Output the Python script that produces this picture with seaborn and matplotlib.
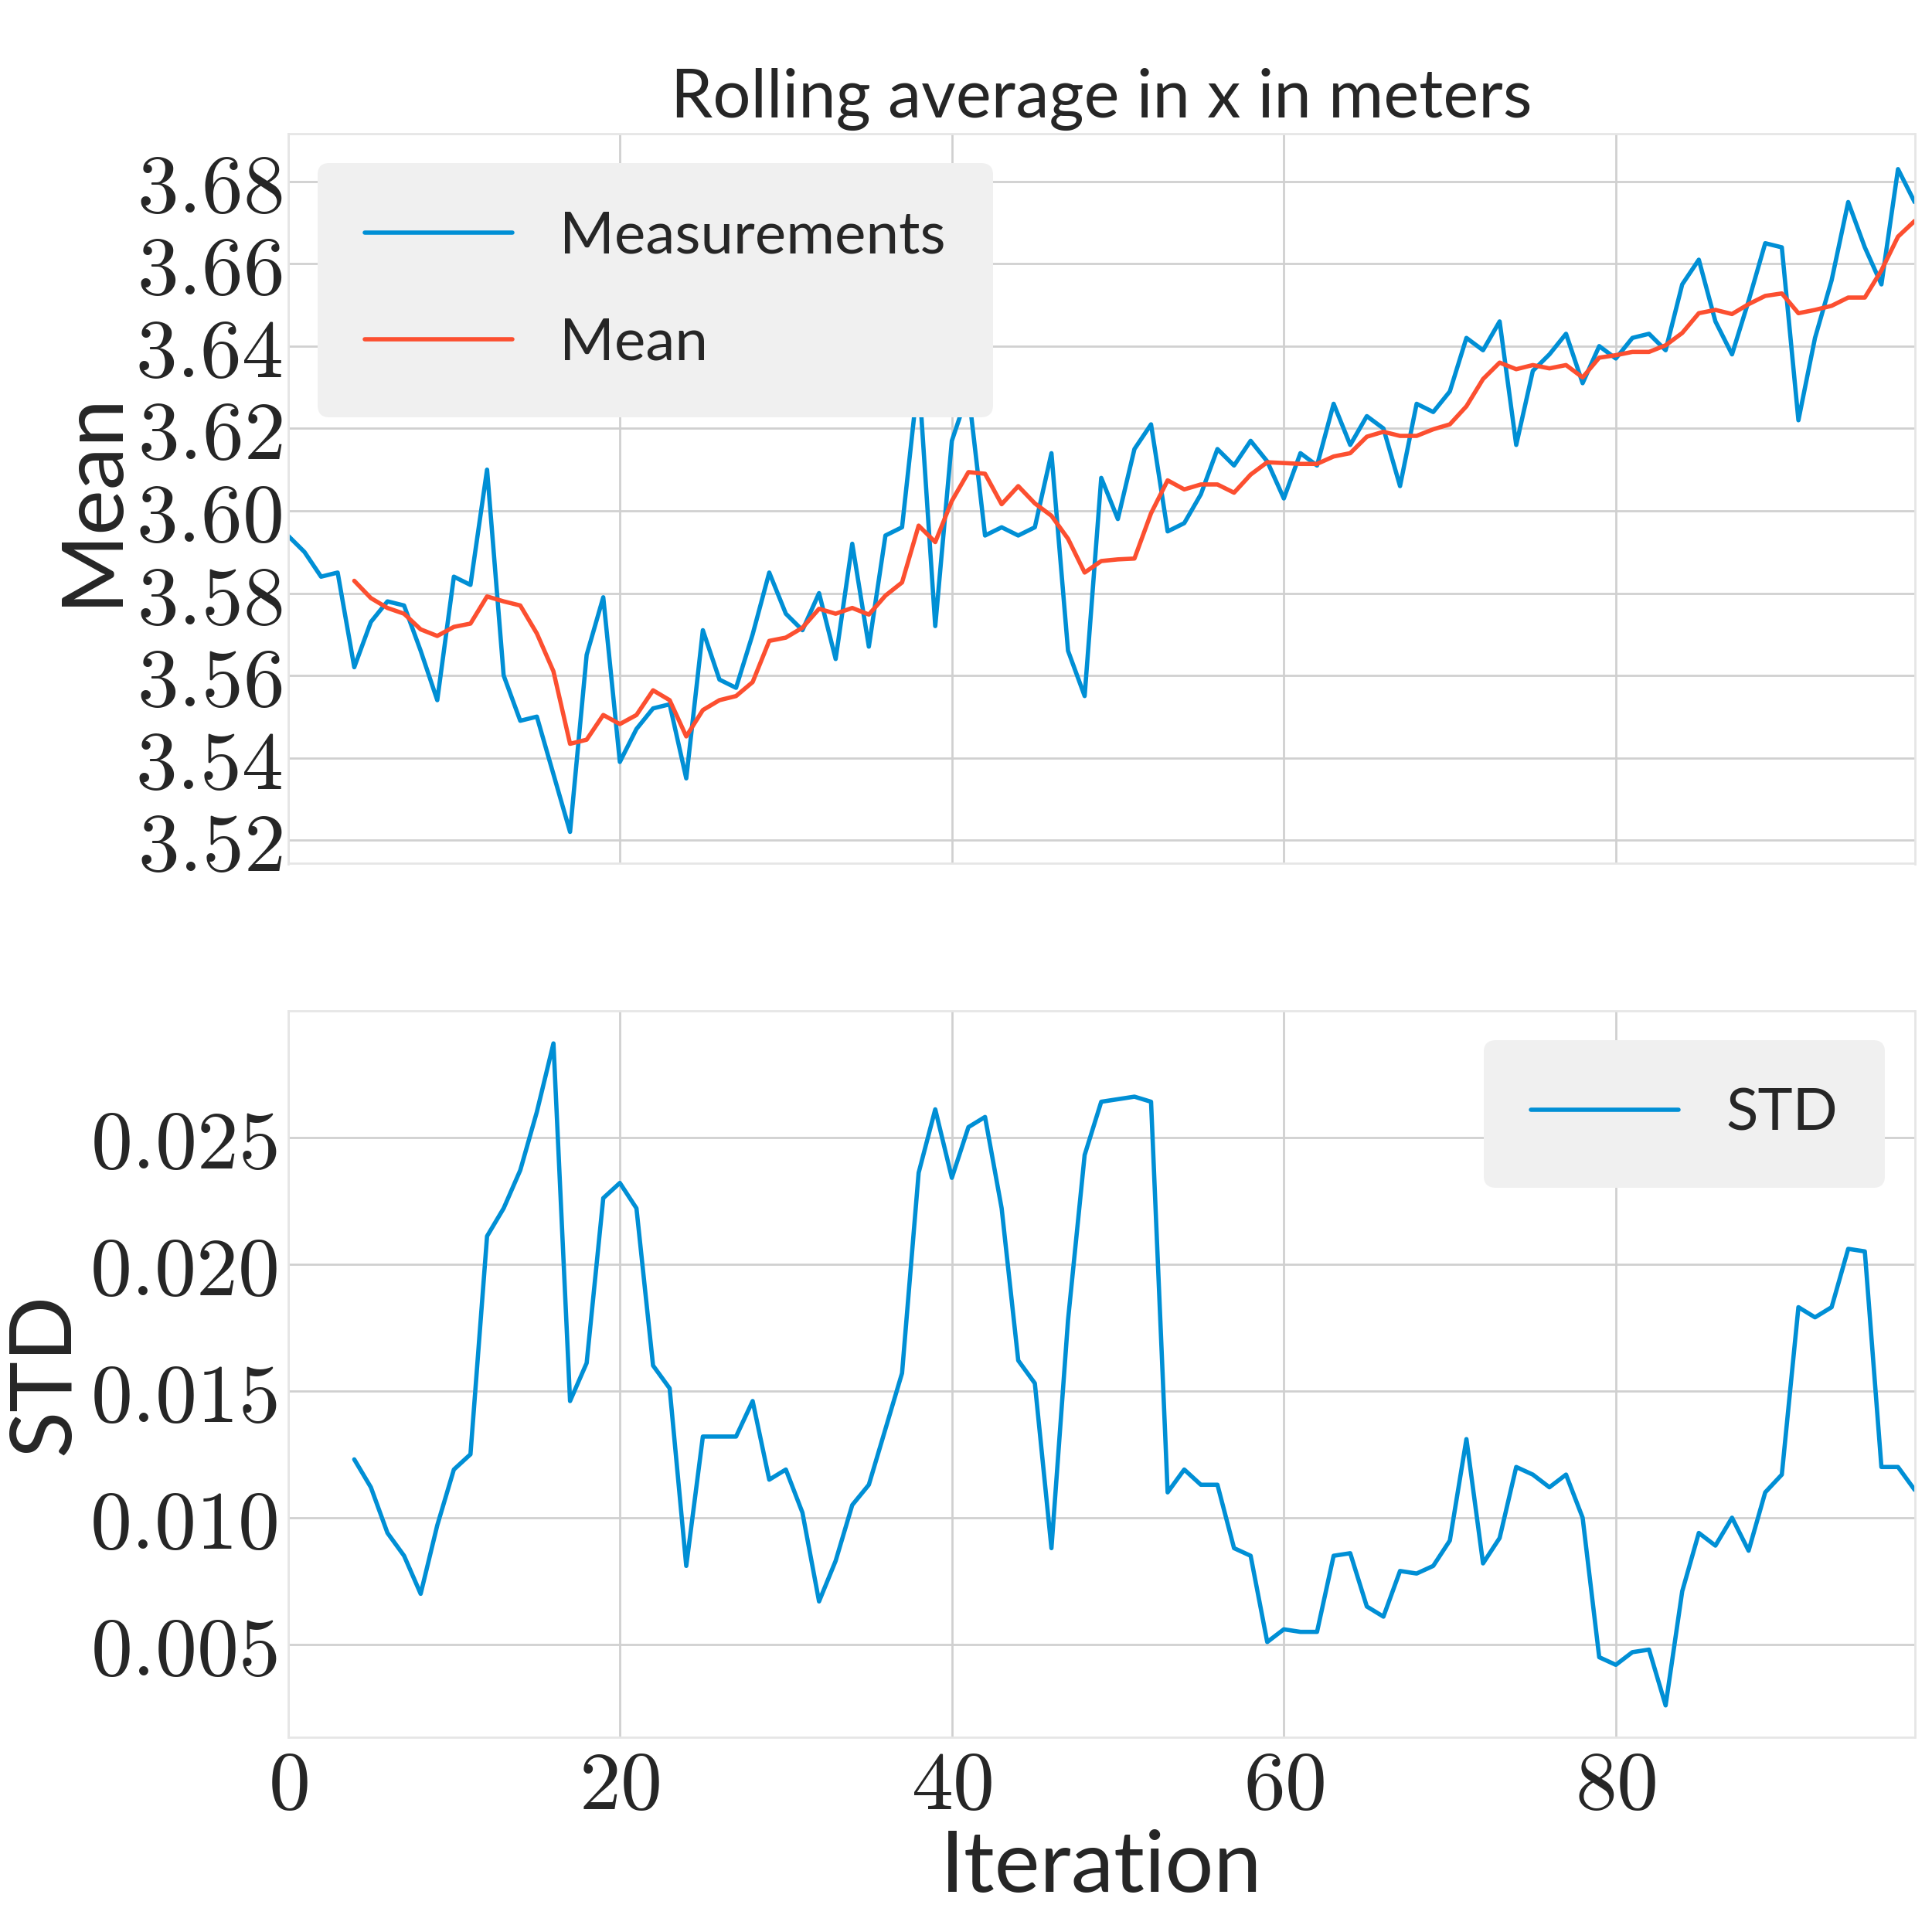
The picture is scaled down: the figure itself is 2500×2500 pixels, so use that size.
import numpy as np
import pandas as pd
import seaborn as sns
import matplotlib.pyplot as plt
from matplotlib.ticker import FuncFormatter

measurements = [3.594, 3.590, 3.584, 3.585, 3.562, 3.573, 3.578, 3.577, 3.566, 3.554,
                3.584, 3.582, 3.610, 3.560, 3.549, 3.550, 3.536, 3.522, 3.565, 3.579,
                3.539, 3.547, 3.552, 3.553, 3.535, 3.571, 3.559, 3.557, 3.570, 3.585,
                3.575, 3.571, 3.580, 3.564, 3.592, 3.567, 3.594, 3.596, 3.633, 3.572,
                3.617, 3.629, 3.594, 3.596, 3.594, 3.596, 3.614, 3.566, 3.555, 3.608,
                3.598, 3.615, 3.621, 3.595, 3.597, 3.604, 3.615, 3.611, 3.617, 3.612,
                3.603, 3.614, 3.611, 3.626, 3.616, 3.623, 3.620, 3.606, 3.626, 3.624,
                3.629, 3.642, 3.639, 3.646, 3.616, 3.634, 3.638, 3.643, 3.631, 3.640,
                3.637, 3.642, 3.643, 3.639, 3.655, 3.661, 3.646, 3.638, 3.651, 3.665,
                3.664, 3.622, 3.642, 3.656, 3.675, 3.664, 3.655, 3.683, 3.675]

std_values = [np.nan] * 4 + [
    0.0123, 0.0112, 0.0094, 0.0085, 0.0070, 0.0097, 0.0119, 0.0125, 0.0211, 0.0222,
    0.0237, 0.0260, 0.0287, 0.0146, 0.0161, 0.0226, 0.0232, 0.0222, 0.0160, 0.0151,
    0.0081, 0.0132, 0.0132, 0.0132, 0.0146, 0.0115, 0.0119, 0.0102, 0.0067, 0.0083,
    0.0105, 0.0113, 0.0135, 0.0157, 0.0236, 0.0261, 0.0234, 0.0254, 0.0258, 0.0222,
    0.0162, 0.0153, 0.0088, 0.0178, 0.0243, 0.0264, 0.0265, 0.0266, 0.0264, 0.0110,
    0.0119, 0.0113, 0.0113, 0.0088, 0.0085, 0.0051, 0.0056, 0.0055, 0.0055, 0.0085,
    0.0086, 0.0065, 0.0061, 0.0079, 0.0078, 0.0081, 0.0091, 0.0131, 0.0082, 0.0092,
    0.0120, 0.0117, 0.0112, 0.0117, 0.0100, 0.0045, 0.0042, 0.0047, 0.0048, 0.0026,
    0.0071, 0.0094, 0.0089, 0.0100, 0.0087, 0.0110, 0.0117, 0.0183, 0.0179, 0.0183,
    0.0206, 0.0205, 0.0120, 0.0120, 0.0111]

df = pd.DataFrame({"Iteration": np.arange(len(measurements)),
                   "Measurements": measurements, "STD": std_values})
df["Mean"] = df["Measurements"].rolling(5).mean()

sns.set_style("whitegrid", {"grid.color": "#d0d0d0", "axes.edgecolor": "#e6e6e6"})
plt.rcParams["font.family"] = ["Lato", "DejaVu Sans"]
plt.rcParams["mathtext.fontset"] = "cm"

fig = plt.figure(figsize=(10, 10), dpi=250)
ax1 = fig.add_axes([0.149, 0.553, 0.842, 0.378])
ax2 = fig.add_axes([0.149, 0.101, 0.842, 0.376], sharex=ax1)

blue, red = "#008fd5", "#fc4f30"
sns.lineplot(data=df, x="Iteration", y="Measurements", ax=ax1, color=blue, lw=1.6, label="Measurements")
sns.lineplot(data=df, x="Iteration", y="Mean", ax=ax1, color=red, lw=1.6, label="Mean")
sns.lineplot(data=df, x="Iteration", y="STD", ax=ax2, color=blue, lw=1.6, label="STD")

ax1.set_xlim(0, 98)
ax1.set_ylim(3.5143, 3.6917)
ax1.set_yticks(np.arange(3.52, 3.681, 0.02))
ax2.set_ylim(0.00136, 0.0300)
ax2.set_yticks([0.005, 0.010, 0.015, 0.020, 0.025])
ax2.set_xticks([0, 20, 40, 60, 80])

ax1.yaxis.set_major_formatter(FuncFormatter(lambda v, p: r"$%.2f$" % v))
ax2.yaxis.set_major_formatter(FuncFormatter(lambda v, p: r"$%.3f$" % v))
ax2.xaxis.set_major_formatter(FuncFormatter(lambda v, p: r"$%d$" % v))
ax1.tick_params(labelbottom=False, labelsize=31, length=0, pad=2)
ax2.tick_params(labelsize=31, length=0, pad=4)

ax1.set_title("Rolling average in x in meters", fontsize=25)
ax1.set_xlabel("")
ax1.set_ylabel("Mean", fontsize=32, labelpad=2)
ax2.set_ylabel("STD", fontsize=32, labelpad=2)
ax2.set_xlabel("Iteration", fontsize=32, labelpad=2)

for ax, loc in ((ax1, "upper left"), (ax2, "upper right")):
    leg = ax.legend(loc=loc, fontsize=22, facecolor="#f0f0f0", edgecolor="none",
                    framealpha=1, borderpad=0.8, handlelength=2.5, labelspacing=0.9)

fig.savefig("out.png")
